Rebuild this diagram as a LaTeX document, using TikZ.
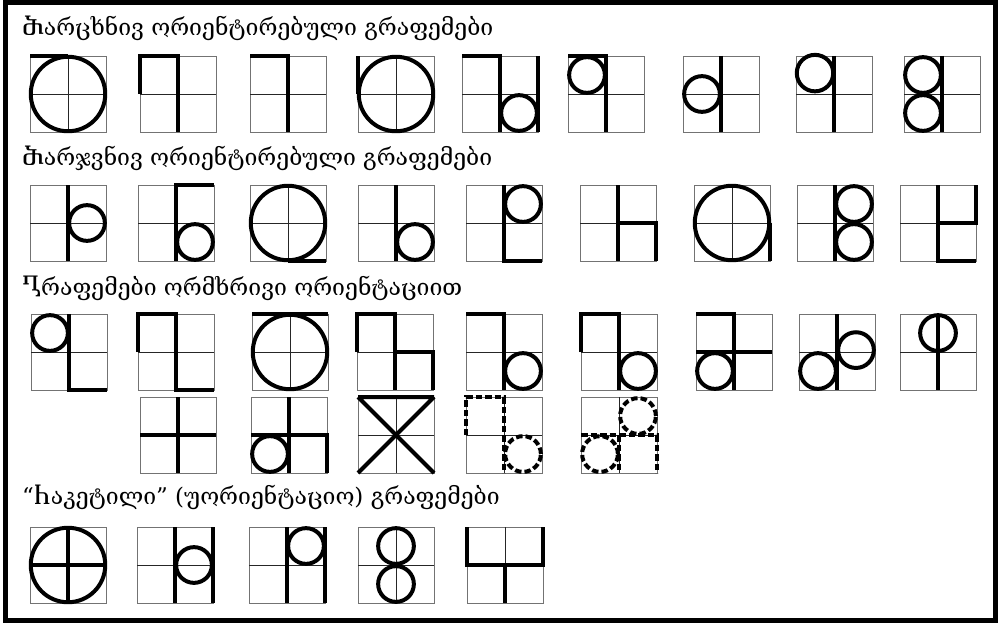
\documentclass[tikz,border=0pt]{standalone}
\usepackage{fontspec}
\setmainfont{DejaVu Serif}
\usetikzlibrary{positioning}

% one grapheme: left and top edge in pixels, then the strokes
\newcommand{\grafema}[3]{%
  \begin{scope}[shift={({#1*1pt},{-(#2+76)*1pt})},x=38pt,y=38pt]
    \draw[cellbox] (0,0) rectangle (2,2);
    \draw[cellaxis] (1,0) -- (1,2) (0,1) -- (2,1);
    #3
  \end{scope}}

\begin{document}
\begin{tikzpicture}[x=1pt,y=-1pt,
  cellbox/.style={draw=black!55,line width=0.8pt},
  cellaxis/.style={draw=black!85,line width=0.6pt},
  grafline/.style={draw,line width=4pt,line join=miter},
  grafdash/.style={grafline,dash pattern=on 6.5pt off 3pt},
  heading/.style={anchor=base west,inner sep=0pt,font=\fontsize{23}{27}\selectfont}]
\useasboundingbox (0,0) rectangle (998,623);
\draw[line width=5pt] (5.5,2.5) rectangle (995.5,620.5);

\node[heading] (kop1) at (22,36) {Ⴋარცხნივ ორიენტირებული გრაფემები};
\node[heading] (kop2) at (22,165) {Ⴋარჯვნივ ორიენტირებული გრაფემები};
\node[heading] (kop3) at (22,295) {Ⴂრაფემები ორმხრივი ორიენტაციით};
\node[heading] (kop4) at (22,504) {“Ⴙაკეტილი” (უორიენტაციო) გრაფემები};

% left oriented
\grafema{30}{56}{\draw[grafline] (1,1) circle (0.98); \draw[grafline] (0,2) -- (1,2);}
\grafema{140}{56}{\draw[grafline] (0,1) -- (0,2) -- (1,2) -- (1,0);}
\grafema{250}{56}{\draw[grafline] (0,2) -- (1,2) -- (1,0);}
\grafema{358}{56}{\draw[grafline] (1,1) circle (0.98); \draw[grafline] (0,1) -- (0,2);}
\grafema{462}{56}{\draw[grafline] (0,2) -- (1,2) -- (1,0) (2,2) -- (2,0); \draw[grafline] (1.5,0.5) circle (0.47);}
\grafema{568}{56}{\draw[grafline] (0,2) -- (1,2) -- (1,0); \draw[grafline] (0.5,1.5) circle (0.47);}
\grafema{683}{56}{\draw[grafline] (1,2) -- (1,0); \draw[grafline] (0.5,1) circle (0.47);}
\grafema{796}{56}{\draw[grafline] (1,2) -- (1,0); \draw[grafline] (0.5,1.55) circle (0.48);}
\grafema{904}{56}{\draw[grafline] (1,2) -- (1,0); \draw[grafline] (0.5,1.5) circle (0.47) (0.5,0.5) circle (0.47);}

% right oriented
\grafema{30}{185}{\draw[grafline] (1,2) -- (1,0); \draw[grafline] (1.5,1) circle (0.47);}
\grafema{138}{185}{\draw[grafline] (2,2) -- (1,2) -- (1,0); \draw[grafline] (1.5,0.5) circle (0.47);}
\grafema{250}{185}{\draw[grafline] (1,1) circle (0.98); \draw[grafline] (1,0) -- (2,0);}
\grafema{358}{185}{\draw[grafline] (1,2) -- (1,0); \draw[grafline] (1.5,0.5) circle (0.47);}
\grafema{466}{185}{\draw[grafline] (1,2) -- (1,0) -- (2,0); \draw[grafline] (1.5,1.5) circle (0.47);}
\grafema{580}{185}{\draw[grafline] (1,2) -- (1,0) (1,1) -- (2,1) -- (2,0);}
\grafema{694}{185}{\draw[grafline] (1,1) circle (0.98); \draw[grafline] (2,1) -- (2,0);}
\grafema{797}{185}{\draw[grafline] (1,2) -- (1,0); \draw[grafline] (1.5,1.5) circle (0.47) (1.5,0.5) circle (0.47);}
\grafema{900}{185}{\draw[grafline] (1,2) -- (1,0) -- (2,0) (1,1) -- (2,1) -- (2,2);}

% both ways
\grafema{31}{314}{\draw[grafline] (1,2) -- (1,0) -- (2,0); \draw[grafline] (0.5,1.5) circle (0.47);}
\grafema{138}{314}{\draw[grafline] (0,1) -- (0,2) -- (1,2) -- (1,0) -- (2,0);}
\grafema{252}{314}{\draw[grafline] (1,1) circle (0.98); \draw[grafline] (0,2) -- (2,2);}
\grafema{357}{314}{\draw[grafline] (0,1) -- (0,2) -- (1,2) -- (1,0) (1,1) -- (2,1) -- (2,0);}
\grafema{466}{314}{\draw[grafline] (0,2) -- (1,2) -- (1,0); \draw[grafline] (1.5,0.5) circle (0.47);}
\grafema{581}{314}{\draw[grafline] (0,1) -- (0,2) -- (1,2) -- (1,0); \draw[grafline] (1.5,0.5) circle (0.47);}
\grafema{696}{314}{\draw[grafline] (0,2) -- (1,2) -- (1,0) (0,1) -- (2,1); \draw[grafline] (0.5,0.5) circle (0.47);}
\grafema{799}{314}{\draw[grafline] (1,2) -- (1,0); \draw[grafline] (0.5,0.5) circle (0.47) (1.5,1.05) circle (0.47);}
\grafema{900}{314}{\draw[grafline] (1,2) -- (1,0); \draw[grafline] (1,1.5) circle (0.47);}
\grafema{140}{397}{\draw[grafline] (1,2) -- (1,0) (0,1) -- (2,1);}
\grafema{251}{397}{\draw[grafline] (1,2) -- (1,0) (0,1) -- (2,1) -- (2,0); \draw[grafline] (0.5,0.5) circle (0.47);}
\grafema{358}{397}{\draw[grafline] (0,2) -- (2,2) (0,2) -- (2,0) (2,2) -- (0,0);}
\grafema{466}{397}{\draw[grafdash] (0,1) -- (0,2) -- (1,2) -- (1,0); \draw[grafdash] (1.5,0.5) circle (0.47);}
\grafema{581}{397}{\draw[grafdash] (0,1) -- (2,1) -- (2,0) (1,1) -- (1,0); \draw[grafdash] (1.5,1.5) circle (0.47) (0.5,0.5) circle (0.47);}

% closed
\grafema{30}{527}{\draw[grafline] (1,1) circle (0.98); \draw[grafline] (1,0) -- (1,2) (0,1) -- (2,1);}
\grafema{137}{527}{\draw[grafline] (1,2) -- (1,0) (2,2) -- (2,0); \draw[grafline] (1.5,1) circle (0.47);}
\grafema{249}{527}{\draw[grafline] (1,2) -- (1,0) (2,2) -- (2,0); \draw[grafline] (1.5,1.5) circle (0.47);}
\grafema{358}{527}{\draw[grafline] (1,1.5) circle (0.47) (1,0.5) circle (0.47);}
\grafema{467}{527}{\draw[grafline] (0,2) -- (0,1) -- (2,1) -- (2,2) (1,1) -- (1,0);}
\end{tikzpicture}
\end{document}
